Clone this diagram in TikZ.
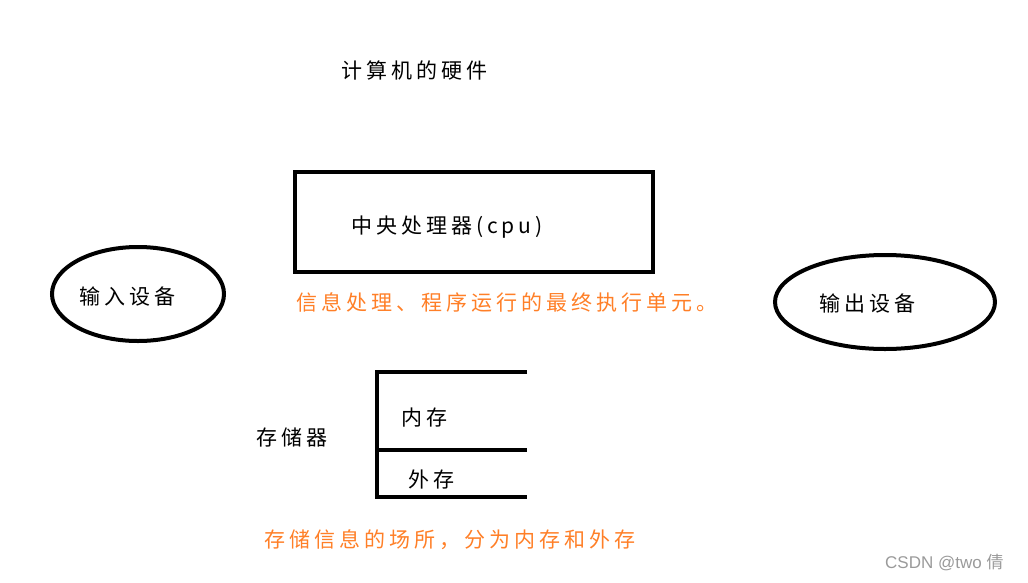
\documentclass[tikz,border=0pt]{standalone}
\usepackage{fontspec}
\usetikzlibrary{shapes.geometric}
\newfontfamily\cjk{Noto Sans CJK SC}[LetterSpace=19]
\newfontfamily\cjkplain{Noto Sans CJK SC}
\setsansfont{Liberation Sans}
\definecolor{paintorange}{HTML}{FF7F27}
\definecolor{wmgray}{HTML}{9A9A9A}
\tikzset{
  txt/.style={anchor=west, inner sep=0pt, font=\cjk\fontsize{21}{21}\selectfont},
  note/.style={txt, text=paintorange},
  oval/.style={ellipse, draw, line width=4pt},
}
\begin{document}
\begin{tikzpicture}[x=1pt,y=-1pt]
\useasboundingbox (0,0) rectangle (1028,582);
% title
\node[txt] (title) at (341,70) {计算机的硬件};
% CPU
\node[draw, line width=4pt, minimum width=358pt, minimum height=100pt, inner sep=0pt] (cpu) at (474,222) {};
\node[txt] (cputxt) at (351,227) {中央处理器(cpu)};
\node[note] (cpunote) at (296,302) {信息处理、程序运行的最终执行单元。};
% input / output
\node[oval, minimum width=172pt, minimum height=94pt] (in) at (138,294) {};
\node[txt] (intxt) at (79,297) {输入设备};
\node[oval, minimum width=220pt, minimum height=94pt] (out) at (885,302) {};
\node[txt] (outtxt) at (819,304) {输出设备};
% memory
\coordinate (mtl) at (377,372);
\coordinate (mtr) at (527,372);
\coordinate (mml) at (377,450);
\coordinate (mmr) at (527,450);
\coordinate (mbl) at (377,497);
\coordinate (mbr) at (527,497);
\draw[line width=4.5pt] (mtr) -- (mtl) -- (mbl) -- (mbr);
\draw[line width=4.5pt] (mml) -- (mmr);
\node[txt] (mem) at (256,437) {存储器};
\node[txt] (inner) at (401,418) {内存};
\node[txt] (outer) at (408,479) {外存};
\node[note] (memnote) at (264,540) {存储信息的场所，分为内存和外存};
% watermark
\node[anchor=west, inner sep=0pt, text=wmgray, font=\sffamily\fontsize{17}{17}\selectfont] (wm) at (885,563) {CSDN @two {\cjkplain 倩}};
\end{tikzpicture}
\end{document}
